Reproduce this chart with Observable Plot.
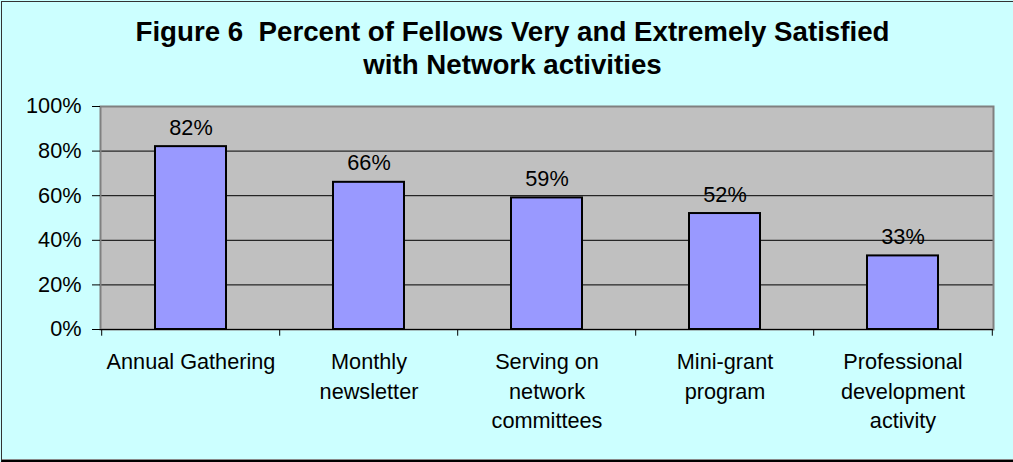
<!DOCTYPE html>
<html><head><meta charset="utf-8">
<script src="https://cdn.jsdelivr.net/npm/d3@7"></script>
<script src="https://cdn.jsdelivr.net/npm/@observablehq/plot@0.6"></script>
<style>
body{margin:0;background:#fff;}
#wrap{position:relative;width:1013px;height:462px;background:#ccffff;font-family:"Liberation Sans",Arial,sans-serif;overflow:hidden;}
#border{position:absolute;left:1px;top:1px;right:-5px;bottom:0px;border-left:1px solid #333;border-top:1px solid #333;border-bottom:2px solid #000;box-shadow:inset 0 -1px 0 #888;box-sizing:border-box;pointer-events:none;}
#title{position:absolute;top:15px;left:12px;width:1001px;text-align:center;font-weight:bold;font-size:27.7px;line-height:33px;color:#000;}
#chart{position:absolute;left:0;top:0;}
</style></head>
<body>
<div id="wrap"><div id="chart"></div><div id="title">Figure 6&nbsp; Percent of Fellows Very and Extremely Satisfied<br>with Network activities</div><div id="border"></div></div>
<script>
const categories = ["Annual Gathering","Monthly newsletter","Serving on network committees","Mini-grant program","Professional development activity"];
const tickLabels = ["Annual Gathering","Monthly\nnewsletter","Serving on\nnetwork\ncommittees","Mini-grant\nprogram","Professional\ndevelopment\nactivity"];
const values = [82,66,59,52,33];
const yTicks = [0,20,40,60,80,100];

const data = categories.map((c,i)=>({category:c, value:values[i]}));
const W = 1013, H = 462, ML = 100, MR = 20, MT = 106, MB = 133;
const FS = 21.7;
const step = (W - ML - MR) / categories.length;
const lastCat = categories[categories.length-1];

const chart = Plot.plot({
  width: W, height: H,
  marginLeft: ML, marginRight: MR, marginTop: MT, marginBottom: MB,
  style: {background: "transparent", fontFamily: "'Liberation Sans', Arial, sans-serif", fontSize: FS + "px", color: "#000"},
  x: {domain: categories, paddingInner: 0.6, paddingOuter: 0.3, label: null},
  y: {domain: [0, 100], label: null},
  marks: [
    Plot.frame({fill: "#c0c0c0", stroke: null}),
    Plot.ruleY(yTicks.filter(t => t > 0 && t < 100), {stroke: "#000", strokeWidth: 1}),
    Plot.frame({fill: null, stroke: "#808080", strokeWidth: 2}),
    Plot.barY(data, {x: "category", y: "value", fill: "#9999ff", stroke: "#000", strokeWidth: 2}),
    Plot.text(data, {x: "category", y: "value", text: d => d.value + "%", lineAnchor: "bottom", dy: -12, fontSize: FS, fill: "#000"}),
    Plot.axisY({ticks: yTicks, tickFormat: d => d + "%", tickSize: 8, tickPadding: 11, fontSize: FS, label: null, stroke: "#000"}),
    Plot.ruleY([0], {stroke: "#000", strokeWidth: 1}),
    Plot.ruleX(categories, {x: d => d, y1: 0, y2: -3, dx: -step/2, stroke: "#000"}),
    Plot.ruleX([lastCat], {x: d => d, y1: 0, y2: -3, dx: step/2, stroke: "#000"}),
    Plot.axisX({tickSize: 0, tickPadding: 19, tickFormat: d => tickLabels[categories.indexOf(d)], lineHeight: 1.36, fontSize: FS, label: null})
  ]
});
document.getElementById("chart").appendChild(chart);
</script>
</body></html>
